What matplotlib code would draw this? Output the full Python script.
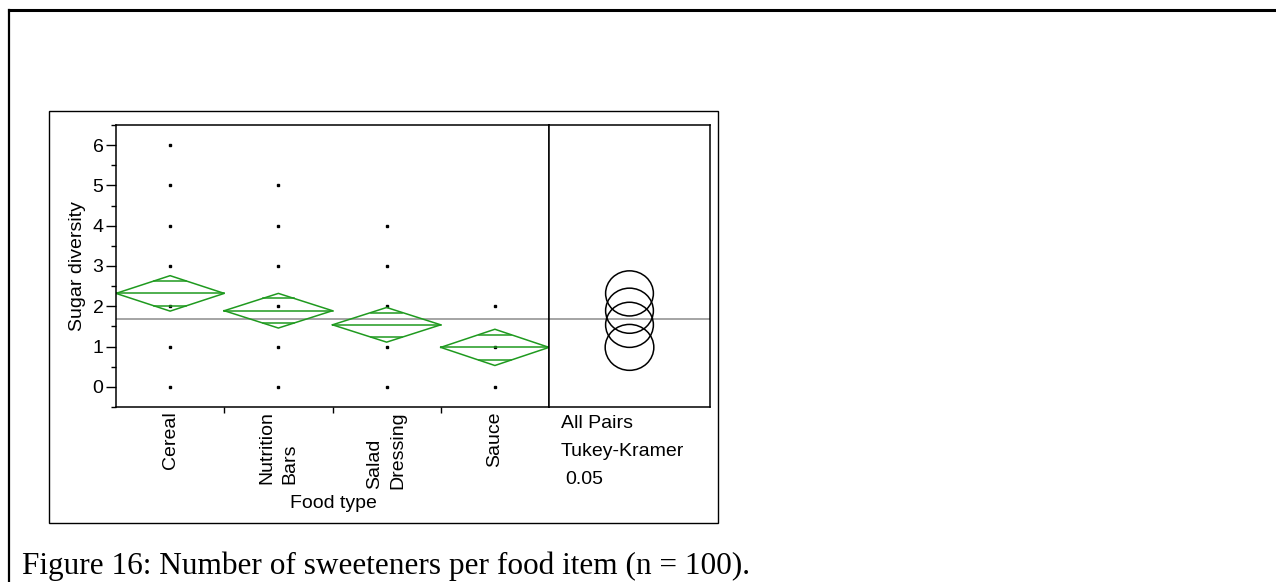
import numpy as np
import matplotlib.pyplot as plt
from matplotlib.lines import Line2D
from matplotlib.patches import Ellipse, Rectangle

plt.rcParams['font.family'] = ['Liberation Sans', 'DejaVu Sans']

# one-way fit of sugar diversity by food type
categories = ['Cereal', 'Nutrition\nBars', 'Salad\nDressing', 'Sauce']
group_values = [
    [0, 1, 2, 3, 4, 5, 6],
    [0, 1, 2, 3, 4, 5],
    [0, 1, 2, 3, 4],
    [0, 1, 2],
]
means = [2.32, 1.89, 1.54, 0.98]
ci_half = [0.44, 0.43, 0.43, 0.45]
grand_mean = 1.68
tukey_radius = [0.56, 0.56, 0.56, 0.57]
alpha_text = '0.05'
caption = 'Figure 16: Number of sweeteners per food item (n = 100).'

W, H = 1276, 582
green = '#1f9a1f'
fs = 14


def fx(x):
    return x / W


def fy(y):
    return 1 - y / H


fig = plt.figure(figsize=(W / 100, H / 100), dpi=100)

# page frame and plot frame
fig.add_artist(Line2D([fx(9), fx(W)], [fy(10), fy(10)], color='black', lw=2.2))
fig.add_artist(Line2D([fx(9), fx(9)], [fy(10), fy(H)], color='black', lw=1.6))
fig.add_artist(Rectangle((fx(49), fy(523)), fx(718) - fx(49), fy(111) - fy(523),
                         fill=False, ec='black', lw=1.0, transform=fig.transFigure))

ax = fig.add_axes([fx(116), fy(407), fx(549) - fx(116), fy(125) - fy(407)])
ax2 = fig.add_axes([fx(549), fy(407), fx(710) - fx(549), fy(125) - fy(407)])

ax.set_xlim(-0.5, 3.5)
ax.set_ylim(-0.5, 6.5)

for i, vals in enumerate(group_values):
    ax.plot([i] * len(vals), vals, ls='none', marker='s', ms=2.0, color='black')

ax.axhline(grand_mean, color='#8c8c8c', lw=1.1, zorder=1)

# means diamonds with overlap marks
hw = 0.5
for i, (m, h) in enumerate(zip(means, ci_half)):
    ax.plot([i - hw, i, i + hw, i, i - hw], [m, m + h, m, m - h, m], color=green, lw=1.1)
    ax.plot([i - hw, i + hw], [m, m], color=green, lw=1.1)
    d = h / np.sqrt(2)
    ow = hw * (1 - 1 / np.sqrt(2))
    for s in (1, -1):
        ax.plot([i - ow, i + ow], [m + s * d, m + s * d], color=green, lw=1.1)

ax.set_xticks(range(len(categories)))
ax.set_xticklabels(categories, rotation=90, va='top', ha='center',
                   multialignment='left', linespacing=1.5, fontsize=fs)
ax.set_xticks([0.5, 1.5, 2.5], minor=True)
ax.tick_params(axis='x', which='major', length=0, pad=3)
ax.tick_params(axis='x', which='minor', length=4.5, width=1.0, direction='out')

ax.set_yticks(range(7))
ax.set_yticks(np.arange(-0.5, 6.6, 0.5), minor=True)
ax.tick_params(axis='y', which='major', length=7, width=1.0, pad=2, labelsize=fs)
ax.tick_params(axis='y', which='minor', length=3.6, width=1.0)
ax.set_ylabel('Sugar diversity', fontsize=fs, labelpad=5)
for sp in ax.spines.values():
    sp.set_linewidth(1.1)

# comparison circles panel
ax2.set_ylim(-0.5, 6.5)
ax2.set_xlim(0, 4.0)
ax2.set_xticks([])
ax2.set_yticks([])
for sp in ax2.spines.values():
    sp.set_linewidth(1.1)
ax2.axhline(grand_mean, color='#8c8c8c', lw=1.1, zorder=1)
for m, r in zip(means, tukey_radius):
    ax2.add_patch(Ellipse((2.0, m), 2 * r * 1.06, 2 * r, fill=False, ec='black', lw=1.1))

fig.text(fx(333), fy(503), 'Food type', ha='center', va='center', fontsize=fs)
fig.text(fx(561), fy(424), 'All Pairs', ha='left', va='center', fontsize=fs)
fig.text(fx(561), fy(452), 'Tukey-Kramer', ha='left', va='center', fontsize=fs)
fig.text(fx(565), fy(480), alpha_text, ha='left', va='center', fontsize=fs)

fig.text(fx(22), fy(566), caption, ha='left', va='center', fontsize=22.5,
         family=['Liberation Serif', 'DejaVu Serif'])

fig.savefig('out.png', dpi=100)
